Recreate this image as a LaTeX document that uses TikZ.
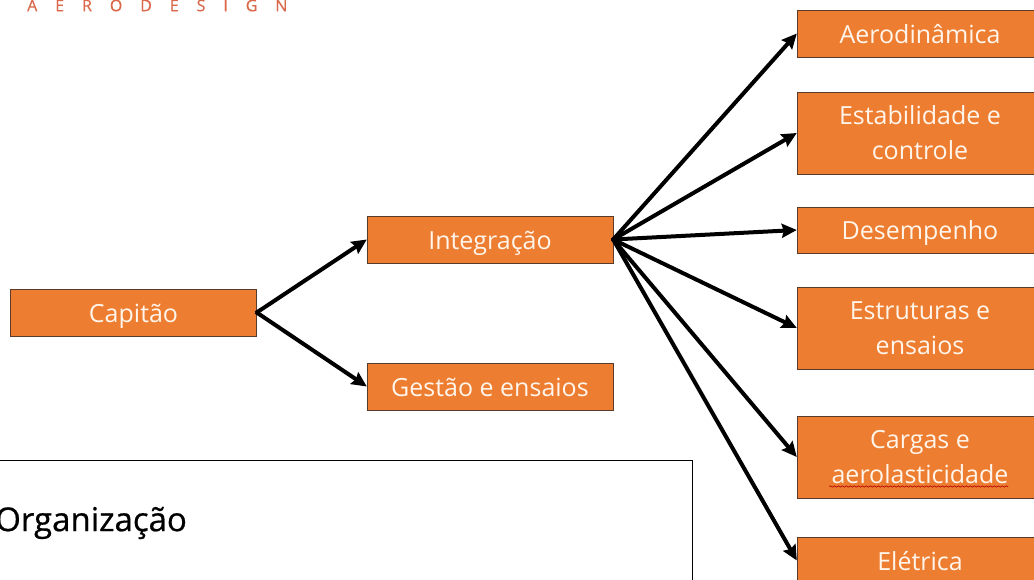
\documentclass[tikz,border=0pt]{standalone}
\usepackage{fontspec}
\setmainfont{Open Sans}
\newfontfamily\logofont[LetterSpace=112,FakeBold=0.4]{Open Sans}
\newfontfamily\titlefont[FakeBold=0.6]{Open Sans}
\usetikzlibrary{arrows.meta,decorations.pathmorphing}

\definecolor{boxfill}{HTML}{ED7D31}
\definecolor{boxline}{HTML}{5A3A2A}
\definecolor{logocolor}{HTML}{D9694A}

\begin{document}
\begin{tikzpicture}[
    x=1pt, y=-1pt,
    area/.style={rectangle, draw=boxline, fill=boxfill, text=white!92!orange,
        minimum width=246pt, minimum height=47pt, inner sep=0pt, align=center,
        font=\fontsize{25}{35}\selectfont},
    single/.style={area, text height=24pt, text depth=4pt},
    tall/.style={area, minimum height=82pt},
    link/.style={line width=4pt, black, -{Stealth[length=15pt,width=14pt,inset=2pt]}, shorten <=-1pt}
]
    \useasboundingbox (0,0) rectangle (1034,580);
    \clip (0,0) rectangle (1034,580);
    \node[text=logocolor, font=\fontsize{16}{16}\logofont, anchor=west, inner sep=0pt] (logo) at (27,5.5) {AERODESIGN};
    % left side
    \node[single] (capitao) at (133.5,312.5) {Capitão};
    \node[single] (integracao) at (490,239.5) {Integração};
    \node[single] (gestao) at (490,386.5) {Gestão e ensaios};
    % right column
    \node[single] (aero) at (920,33.5) {Aerodinâmica};
    \node[tall] (estab) at (920,133) {Estabilidade e\\controle};
    \node[single, minimum height=46pt] (desemp) at (920,230) {Desempenho};
    \node[tall] (estrut) at (920,328) {Estruturas e\\ensaios};
    \node[tall] (cargas) at (920,457) {Cargas e\\aerolasticidade};
    \node[single] (eletrica) at (920,560.5) {Elétrica};
    % spell check mark
    \coordinate (squigA) at (829,486.5);
    \coordinate (squigB) at (1008,486.5);
    \draw[red!70!black, line width=0.6pt, decorate,
        decoration={snake, amplitude=0.7pt, segment length=4pt}] (squigA) -- (squigB);
    % lower box
    \node[rectangle, draw=black, fill=white, minimum width=712pt, minimum height=150pt,
        inner sep=0pt] (orgbox) at (336,535) {};
    \node[anchor=west, inner sep=0pt, font=\fontsize{33}{36}\titlefont, text=black] (orgtext) at (-5,523) {Organização};
    % arrows
    \draw[link] (capitao.east) -- (integracao.west);
    \draw[link] (capitao.east) -- (gestao.west);
    \draw[link] (integracao.east) -- (aero.west);
    \draw[link] (integracao.east) -- (estab.west);
    \draw[link] (integracao.east) -- (desemp.west);
    \draw[link] (integracao.east) -- (estrut.west);
    \draw[link] (integracao.east) -- (cargas.west);
    \draw[link] (integracao.east) -- (eletrica.west);
\end{tikzpicture}
\end{document}
